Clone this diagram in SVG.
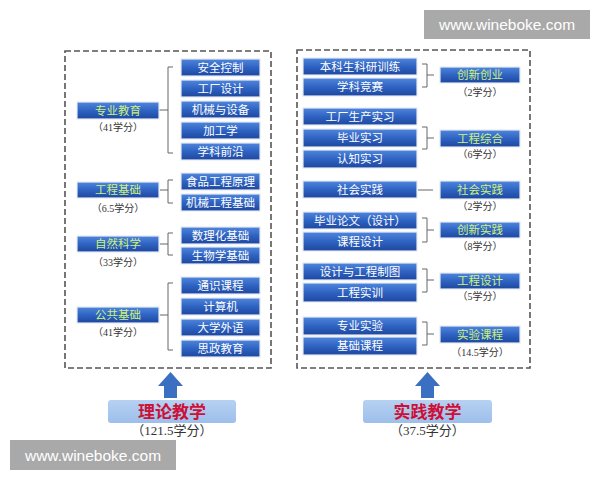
<svg xmlns="http://www.w3.org/2000/svg" width="600" height="480" viewBox="0 0 600 480">
<defs>
<linearGradient id="g" x1="0" y1="0" x2="0" y2="1">
<stop offset="0" stop-color="#4f86dc"/>
<stop offset="0.5" stop-color="#2f63c2"/>
<stop offset="1" stop-color="#1d479f"/>
</linearGradient>
<linearGradient id="lb" x1="0" y1="0" x2="0" y2="1">
<stop offset="0" stop-color="#b6d1f2"/>
<stop offset="1" stop-color="#9dbfea"/>
</linearGradient>
<style>
.b{fill:url(#g);stroke:#e4eaf3;stroke-width:1.2}
.t{font-family:"Noto Sans CJK SC","Noto Sans",sans-serif;font-size:11.5px;fill:#ffffff;text-anchor:middle}
.c{font-family:"Noto Sans CJK SC","Noto Sans",sans-serif;font-size:11.5px;fill:#cdf27a;text-anchor:middle}
.l{font-family:"Liberation Serif","Noto Sans CJK SC",serif;font-size:10px;fill:#333;text-anchor:middle}
.bl{font-family:"Liberation Serif","Noto Sans CJK SC",serif;font-size:13px;fill:#333;text-anchor:middle}
.bt{font-family:"Noto Sans CJK SC",sans-serif;font-size:17px;font-weight:bold;fill:#cc1038;text-anchor:middle}
.br{fill:none;stroke:#666;stroke-width:1}
.dash{fill:none;stroke:#555;stroke-width:1.6;stroke-dasharray:6 3}
.wm{fill:#a9a9a9}
.wt{font-family:"Liberation Sans",Arial,sans-serif;font-size:15.5px;fill:#ffffff;text-anchor:middle}
</style>
</defs>
<rect width="600" height="480" fill="#ffffff"/>
<rect class="dash" x="65" y="51" width="206" height="317"/>
<rect class="dash" x="297" y="50" width="233" height="318"/>

<g id="connectors">
<path class="br" d="M173 67H168V153H173M158 110H168"/>
<path class="br" d="M173 180H168V203H173M160 190H168"/>
<path class="br" d="M173 233H168V255H173M160 244H168"/>
<path class="br" d="M173 283H168V350H173M160 315H168"/>
<path class="br" d="M422 64H427V87H422M427 75H434"/>
<path class="br" d="M422 127H427V149H422M427 138H434"/>
<path class="br" d="M418 190H433"/>
<path class="br" d="M422 218H427V242H422M427 230H434"/>
<path class="br" d="M422 269H427V292H422M427 280H434"/>
<path class="br" d="M422 322H427V345H422M427 334H434"/>
<path d="M164 398V386H158L170.5 372L183 386H177V398Z" fill="#3b6fc2"/>
<path d="M421 398V386H415L427.5 372L440 386H434V398Z" fill="#3b6fc2"/>
</g>

<g id="n-zyjy"><rect class="b" x="77" y="102" width="82" height="17"/><text class="c" x="118" y="114.5">专业教育</text><text class="l" x="118" y="131">（41学分）</text></g>
<g id="n-gcjc"><rect class="b" x="77" y="182" width="82" height="16"/><text class="c" x="118" y="194">工程基础</text><text class="l" x="118" y="212">（6.5学分）</text></g>
<g id="n-zrkx"><rect class="b" x="77" y="236" width="82" height="16"/><text class="c" x="118" y="248">自然科学</text><text class="l" x="118" y="266">（33学分）</text></g>
<g id="n-ggjc"><rect class="b" x="77" y="307" width="82" height="16"/><text class="c" x="118" y="319">公共基础</text><text class="l" x="118" y="336">（41学分）</text></g>

<g id="n-aqkz"><rect class="b" x="181" y="59" width="79" height="17"/><text class="t" x="220.5" y="71.5">安全控制</text></g>
<g id="n-gcsj"><rect class="b" x="181" y="80" width="79" height="17"/><text class="t" x="220.5" y="92.5">工厂设计</text></g>
<g id="n-jxysb"><rect class="b" x="181" y="101" width="79" height="17"/><text class="t" x="220.5" y="113.5">机械与设备</text></g>
<g id="n-jgx"><rect class="b" x="181" y="122" width="79" height="17"/><text class="t" x="220.5" y="134.5">加工学</text></g>
<g id="n-xkqy"><rect class="b" x="181" y="143" width="79" height="17"/><text class="t" x="220.5" y="155.5">学科前沿</text></g>
<g id="n-spgcyl"><rect class="b" x="181" y="173" width="79" height="17"/><text class="t" x="220.5" y="185.5">食品工程原理</text></g>
<g id="n-jxgcjc"><rect class="b" x="181" y="194" width="79" height="17"/><text class="t" x="220.5" y="206.5">机械工程基础</text></g>
<g id="n-slhjc"><rect class="b" x="181" y="227" width="79" height="17"/><text class="t" x="220.5" y="239.5">数理化基础</text></g>
<g id="n-swxjc"><rect class="b" x="181" y="247" width="79" height="17"/><text class="t" x="220.5" y="259.5">生物学基础</text></g>
<g id="n-tskc"><rect class="b" x="181" y="277" width="79" height="17"/><text class="t" x="220.5" y="289.5">通识课程</text></g>
<g id="n-jsj"><rect class="b" x="181" y="298" width="79" height="17"/><text class="t" x="220.5" y="310.5">计算机</text></g>
<g id="n-dxwy"><rect class="b" x="181" y="319" width="79" height="17"/><text class="t" x="220.5" y="331.5">大学外语</text></g>
<g id="n-szjy"><rect class="b" x="181" y="340" width="79" height="17"/><text class="t" x="220.5" y="352.5">思政教育</text></g>

<g id="n-bkskyxl"><rect class="b" x="303" y="58" width="114" height="17"/><text class="t" x="360" y="70.5">本科生科研训练</text></g>
<g id="n-xkjs"><rect class="b" x="303" y="78" width="114" height="18"/><text class="t" x="360" y="91">学科竞赛</text></g>
<g id="n-gcscsx"><rect class="b" x="303" y="108" width="114" height="17"/><text class="t" x="360" y="120.5">工厂生产实习</text></g>
<g id="n-bysx"><rect class="b" x="303" y="129" width="114" height="18"/><text class="t" x="360" y="142">毕业实习</text></g>
<g id="n-rzsx"><rect class="b" x="303" y="150" width="114" height="18"/><text class="t" x="360" y="163">认知实习</text></g>
<g id="n-shsj1"><rect class="b" x="303" y="181" width="114" height="17"/><text class="t" x="360" y="193.5">社会实践</text></g>
<g id="n-bylw"><rect class="b" x="303" y="212" width="114" height="17"/><text class="t" x="360" y="224.5">毕业论文（设计）</text></g>
<g id="n-kcsj"><rect class="b" x="303" y="232" width="114" height="19"/><text class="t" x="360" y="245.5">课程设计</text></g>
<g id="n-sjygczt"><rect class="b" x="303" y="263" width="114" height="17"/><text class="t" x="360" y="275.5">设计与工程制图</text></g>
<g id="n-gcsx"><rect class="b" x="303" y="283" width="114" height="19"/><text class="t" x="360" y="296.5">工程实训</text></g>
<g id="n-zysy"><rect class="b" x="303" y="317" width="114" height="18"/><text class="t" x="360" y="330">专业实验</text></g>
<g id="n-jckc"><rect class="b" x="303" y="337" width="114" height="18"/><text class="t" x="360" y="350">基础课程</text></g>

<g id="n-cxcy"><rect class="b" x="440" y="67" width="80" height="16"/><text class="c" x="480" y="79">创新创业</text><text class="l" x="480" y="96">（2学分）</text></g>
<g id="n-gczh"><rect class="b" x="440" y="130" width="80" height="17"/><text class="c" x="480" y="142.5">工程综合</text><text class="l" x="480" y="158">（6学分）</text></g>
<g id="n-shsj2"><rect class="b" x="440" y="181" width="80" height="18"/><text class="c" x="480" y="194">社会实践</text><text class="l" x="480" y="210">（2学分）</text></g>
<g id="n-cxsj"><rect class="b" x="440" y="222" width="80" height="16"/><text class="c" x="480" y="234">创新实践</text><text class="l" x="480" y="250">（8学分）</text></g>
<g id="n-gcsj2"><rect class="b" x="440" y="273" width="80" height="16"/><text class="c" x="480" y="285">工程设计</text><text class="l" x="480" y="300">（5学分）</text></g>
<g id="n-sykc"><rect class="b" x="440" y="326" width="80" height="17"/><text class="c" x="480" y="338.5">实验课程</text><text class="l" x="480" y="356">（14.5学分）</text></g>

<g id="n-lljx"><rect x="108" y="400" width="128" height="23" rx="3" fill="url(#lb)"/><text class="bt" x="172" y="418">理论教学</text><text class="bl" x="172" y="434.5">（121.5学分）</text></g>
<g id="n-sjjx"><rect x="363" y="400" width="129" height="23" rx="3" fill="url(#lb)"/><text class="bt" x="427.5" y="418">实践教学</text><text class="bl" x="427.5" y="434.5">（37.5学分）</text></g>

<rect class="wm" x="424" y="10" width="166" height="29"/>
<text class="wt" x="507" y="30">www.wineboke.com</text>
<rect class="wm" x="10" y="440" width="166" height="30"/>
<text class="wt" x="93" y="460.5">www.wineboke.com</text>
</svg>
